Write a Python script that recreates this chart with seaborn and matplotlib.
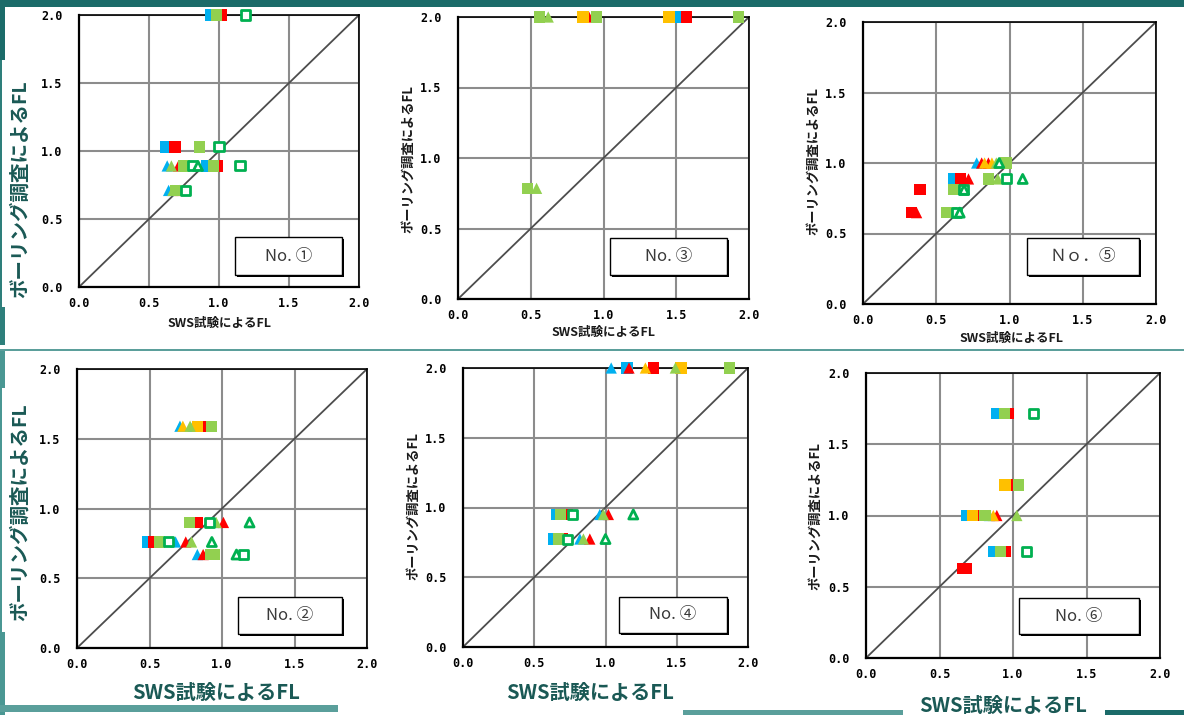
import numpy as np
import pandas as pd
import matplotlib
matplotlib.use("Agg")
import matplotlib.pyplot as plt
from matplotlib.patches import Rectangle
import seaborn as sns

W, H = 1184, 715

# ---- data: FL from SWS test (x) vs FL from boring survey (y) ----
# series codes A..E, kind: sq = square marker, tri = triangle marker
p1_x = [0.94, 0.98, 1.02, 1.19,
        0.62, 0.686, 0.86, 1.00,
        0.63, 0.66, 0.71, 0.75, 0.81, 0.85, 0.91, 0.96, 0.99, 1.15,
        0.64, 0.67, 0.72, 0.69, 0.76]
p1_y = [2.0, 2.0, 2.0, 2.0,
        1.03, 1.03, 1.03, 1.03,
        0.89, 0.89, 0.89, 0.89, 0.89, 0.89, 0.89, 0.89, 0.89, 0.89,
        0.71, 0.71, 0.71, 0.71, 0.71]
p1_s = ["A", "D", "B", "E",
        "A", "B", "D", "E",
        "A", "D", "B", "D", "E", "E", "A", "D", "B", "E",
        "A", "D", "B", "D", "E"]
p1_k = ["sq", "sq", "sq", "sq",
        "sq", "sq", "sq", "sq",
        "tri", "tri", "tri", "sq", "sq", "tri", "sq", "sq", "sq", "sq",
        "tri", "tri", "tri", "sq", "sq"]

p2_x = [0.71, 0.73, 0.78, 0.80, 0.83, 0.86, 0.93,
        0.775, 0.83, 0.917, 0.94, 0.96, 1.01, 1.19,
        0.49, 0.53, 0.57, 0.63, 0.68, 0.75, 0.79, 0.93,
        0.83, 0.87, 0.92, 0.95, 1.10, 1.15]
p2_y = [1.59, 1.59, 1.59, 1.59, 1.59, 1.59, 1.59,
        0.90, 0.90, 0.90, 0.90, 0.90, 0.90, 0.90,
        0.76, 0.76, 0.76, 0.76, 0.76, 0.76, 0.76, 0.76,
        0.67, 0.67, 0.67, 0.67, 0.67, 0.67]
p2_s = ["A", "C", "D", "A", "C", "B", "D",
        "D", "B", "E", "A", "D", "B", "E",
        "A", "B", "D", "E", "A", "B", "D", "E",
        "A", "B", "D", "D", "E", "E"]
p2_k = ["tri", "tri", "tri", "tri", "sq", "sq", "sq",
        "sq", "sq", "sq", "tri", "tri", "tri", "tri",
        "sq", "sq", "sq", "sq", "tri", "tri", "tri", "tri",
        "tri", "tri", "sq", "sq", "tri", "sq"]

p3_x = [0.56, 0.62, 0.86, 0.90, 0.95, 1.45, 1.51, 1.57, 1.93,
        0.48, 0.54]
p3_y = [2.0, 2.0, 2.0, 2.0, 2.0, 2.0, 2.0, 2.0, 2.0,
        0.785, 0.785]
p3_s = ["D", "D", "C", "B", "D", "C", "A", "B", "D",
        "D", "D"]
p3_k = ["sq", "tri", "sq", "tri", "sq", "sq", "sq", "sq", "sq",
        "sq", "tri"]

p4_x = [1.04, 1.15, 1.165, 1.28, 1.335, 1.49, 1.53, 1.87,
        0.66, 0.685, 0.73, 0.77, 0.96, 0.985, 1.02, 1.195,
        0.634, 0.67, 0.70, 0.735, 0.82, 0.845, 0.89, 1.00]
p4_y = [2.0, 2.0, 2.0, 2.0, 2.0, 2.0, 2.0, 2.0,
        0.95, 0.95, 0.95, 0.95, 0.95, 0.95, 0.95, 0.95,
        0.774, 0.774, 0.774, 0.774, 0.774, 0.774, 0.774, 0.774]
p4_s = ["A", "A", "B", "C", "B", "D", "C", "D",
        "A", "D", "B", "E", "A", "D", "B", "E",
        "A", "D", "B", "E", "A", "D", "B", "E"]
p4_k = ["tri", "sq", "tri", "tri", "sq", "tri", "sq", "sq",
        "sq", "sq", "sq", "sq", "tri", "tri", "tri", "tri",
        "sq", "sq", "sq", "sq", "tri", "tri", "tri", "tri"]

p5_x = [0.776, 0.81, 0.83, 0.856, 0.88, 0.91, 0.93, 0.976,
        0.62, 0.667, 0.72, 0.855, 0.92, 0.98, 1.09,
        0.39, 0.62, 0.685, 0.69,
        0.33, 0.366, 0.57, 0.60, 0.64, 0.66]
p5_y = [1.0, 1.0, 1.0, 1.0, 1.0, 1.0, 1.0, 1.0,
        0.887, 0.887, 0.887, 0.887, 0.887, 0.887, 0.887,
        0.81, 0.81, 0.81, 0.81,
        0.648, 0.648, 0.648, 0.648, 0.648, 0.648]
p5_s = ["A", "B", "C", "B", "C", "D", "E", "D",
        "A", "B", "B", "D", "D", "E", "E",
        "B", "D", "E", "E",
        "B", "B", "D", "D", "E", "E"]
p5_k = ["tri", "tri", "tri", "tri", "tri", "tri", "tri", "sq",
        "sq", "sq", "tri", "sq", "tri", "sq", "tri",
        "sq", "sq", "sq", "tri",
        "sq", "tri", "sq", "sq", "sq", "tri"]

p6_x = [0.89, 0.97, 0.94, 1.14,
        0.945, 0.98, 1.035,
        0.685, 0.725, 0.76, 0.81, 0.84, 0.866, 0.89, 1.026,
        0.867, 0.917, 0.95, 1.094,
        0.655, 0.67, 0.68]
p6_y = [1.717, 1.717, 1.717, 1.717,
        1.214, 1.214, 1.214,
        1.0, 1.0, 1.0, 1.0, 1.0, 1.0, 1.0, 1.0,
        0.746, 0.746, 0.746, 0.746,
        0.63, 0.63, 0.63]
p6_s = ["A", "B", "D", "E",
        "C", "B", "D",
        "A", "C", "B", "D", "A", "C", "B", "D",
        "A", "D", "B", "E",
        "B", "B", "B"]
p6_k = ["sq", "sq", "sq", "sq",
        "sq", "sq", "sq",
        "sq", "sq", "sq", "sq", "tri", "tri", "tri", "tri",
        "sq", "sq", "sq", "sq",
        "sq", "tri", "sq"]

panel_titles = ["No. \u2460", "No. \u2461", "No. \u2462",
                "No. \u2463", "\uff2e\uff4f\uff0e\u2464", "No. \u2465"]
x_label = "SWS試験によるFL"
y_label = "ボーリング調査によるFL"
tick_vals = [0.0, 0.5, 1.0, 1.5, 2.0]

# ---- styling ----
series_order = ["A", "B", "C", "D"]
series_colors = {"A": "#00B0F0", "B": "#FF0000", "C": "#FFC000",
                 "D": "#92D050", "E": "#00B050"}
marker_map = {"sq": "s", "tri": "^"}
TEAL = "#1a5955"
CJK = ["Noto Sans CJK JP", "DejaVu Sans"]

sns.set_style("white")
plt.rcParams["font.family"] = CJK

fig = plt.figure(figsize=(W / 100, H / 100), dpi=100)
fig.patch.set_facecolor("white")


def fx(px):
    return px / W


def fy(py):
    return 1 - py / H


def frame(x0, y0, x1, y1, color, z=0):
    fig.add_artist(Rectangle((fx(x0), fy(y1)), (x1 - x0) / W, (y1 - y0) / H,
                             transform=fig.transFigure, facecolor=color,
                             edgecolor="none", zorder=z))


# slide decoration bands
frame(0, 0, 1184, 7, "#1b6b69")
frame(0, 0, 5, 60, "#1b6b69")
frame(0, 60, 1.5, 307, "#2e7f7b")
frame(0, 307, 5, 345, "#2e7f7b")
frame(0, 349, 1184, 351, "#5b9f9b")
frame(0, 351, 5, 388, "#4a9793")
frame(0, 388, 1.5, 632, "#4a9793")
frame(0, 632, 5, 715, "#4a9793")
frame(0, 705, 338, 712, "#5a9f9b")
frame(683, 710, 903, 715, "#5a9f9b")
frame(1105, 710, 1184, 715, "#1b6b69")

panels = [
    dict(x=p1_x, y=p1_y, s=p1_s, k=p1_k, box=(79, 15, 359, 287),
         ylab=("big", 20, 189), xlab=("small", 219, 323), leg=(235, 237, 342, 275)),
    dict(x=p2_x, y=p2_y, s=p2_s, k=p2_k, box=(77, 369, 367, 648),
         ylab=("big", 20, 512), xlab=("big", 216, 692), leg=(238, 597, 342, 634)),
    dict(x=p3_x, y=p3_y, s=p3_s, k=p3_k, box=(458, 17, 749, 299),
         ylab=("small", 408, 159), xlab=("small", 603, 332), leg=(610, 238, 727, 275)),
    dict(x=p4_x, y=p4_y, s=p4_s, k=p4_k, box=(463, 368, 748, 647),
         ylab=("small", 413, 506), xlab=("big", 590, 692), leg=(619, 597, 727, 633)),
    dict(x=p5_x, y=p5_y, s=p5_s, k=p5_k, box=(863, 22, 1156, 304),
         ylab=("small", 813, 161), xlab=("small", 1011, 338), leg=(1027, 238, 1139, 275)),
    dict(x=p6_x, y=p6_y, s=p6_s, k=p6_k, box=(866, 373, 1160, 658),
         ylab=("small", 815, 516), xlab=("big", 1003, 705), leg=(1019, 598, 1139, 634)),
]

for title, p in zip(panel_titles, panels):
    x0, y0, x1, y1 = p["box"]
    ax = fig.add_axes([fx(x0), fy(y1), (x1 - x0) / W, (y1 - y0) / H])
    ax.set_facecolor("white")
    ax.set_xlim(0, 2)
    ax.set_ylim(0, 2)
    ax.set_xticks(tick_vals)
    ax.set_yticks(tick_vals)
    ax.set_xticklabels([f"{v:.1f}" for v in tick_vals])
    ax.set_yticklabels([f"{v:.1f}" for v in tick_vals])
    ax.grid(True, color="#8c8c8c", lw=1.5, zorder=0)
    ax.set_axisbelow(True)
    ax.tick_params(length=0, labelsize=8.5, colors="black")
    ax.tick_params(axis="y", pad=12)
    ax.tick_params(axis="x", pad=7)
    for lab in ax.get_xticklabels() + ax.get_yticklabels():
        lab.set_fontfamily("DejaVu Sans Mono")
        lab.set_fontweight("bold")
    for side in ["left", "bottom", "top", "right"]:
        ax.spines[side].set_visible(True)
        ax.spines[side].set_color("black")
        ax.spines[side].set_linewidth(1.6 if side in ("left", "bottom") else 1.2)

    # 1:1 reference line
    ax.plot([0, 2], [0, 2], color="#4d4d4d", lw=1.3, zorder=2)

    df = pd.DataFrame({"x": p["x"], "y": p["y"], "series": p["s"], "kind": p["k"]})
    for sname in series_order:
        sub = df[df["series"] == sname]
        if sub.empty:
            continue
        sns.scatterplot(data=sub, x="x", y="y", style="kind", markers=marker_map,
                        color=series_colors[sname], s=66, linewidth=0,
                        legend=False, ax=ax, clip_on=False, zorder=3)
    sub = df[df["series"] == "E"]
    if not sub.empty:
        sns.scatterplot(data=sub, x="x", y="y", style="kind", markers=marker_map,
                        color="white", edgecolor=series_colors["E"], s=42,
                        linewidth=2.0, legend=False, ax=ax, clip_on=False, zorder=4)
    ax.set_xlabel("")
    ax.set_ylabel("")

    # axis titles
    kind, tx, ty = p["ylab"]
    if kind == "big":
        fig.text(fx(tx), fy(ty), y_label, rotation=90, ha="center", va="center",
                 fontsize=14, fontweight="bold", color=TEAL, family=CJK)
    else:
        fig.text(fx(tx), fy(ty), y_label, rotation=90, ha="center", va="center",
                 fontsize=9.5, fontweight="bold", color="#1a1a1a", family=CJK)
    kind, tx, ty = p["xlab"]
    if kind == "big":
        fig.text(fx(tx), fy(ty), x_label, ha="center", va="center",
                 fontsize=14.5, fontweight="bold", color=TEAL, family=CJK)
    else:
        fig.text(fx(tx), fy(ty), x_label, ha="center", va="center",
                 fontsize=9, fontweight="bold", color="#1a1a1a", family=CJK)

    # panel name box with drop shadow
    bx0, by0, bx1, by1 = p["leg"]
    fig.add_artist(Rectangle((fx(bx0 + 2), fy(by1 + 2)), (bx1 - bx0) / W, (by1 - by0) / H,
                             transform=fig.transFigure, facecolor="black",
                             edgecolor="none", zorder=5))
    fig.add_artist(Rectangle((fx(bx0), fy(by1)), (bx1 - bx0) / W, (by1 - by0) / H,
                             transform=fig.transFigure, facecolor="white",
                             edgecolor="black", lw=1.0, zorder=6))
    fig.text(fx((bx0 + bx1) / 2), fy((by0 + by1) / 2), title, ha="center", va="center",
             fontsize=12, color="#3a3a3a", family=CJK, zorder=7)

fig.savefig("out.png", dpi=100)
